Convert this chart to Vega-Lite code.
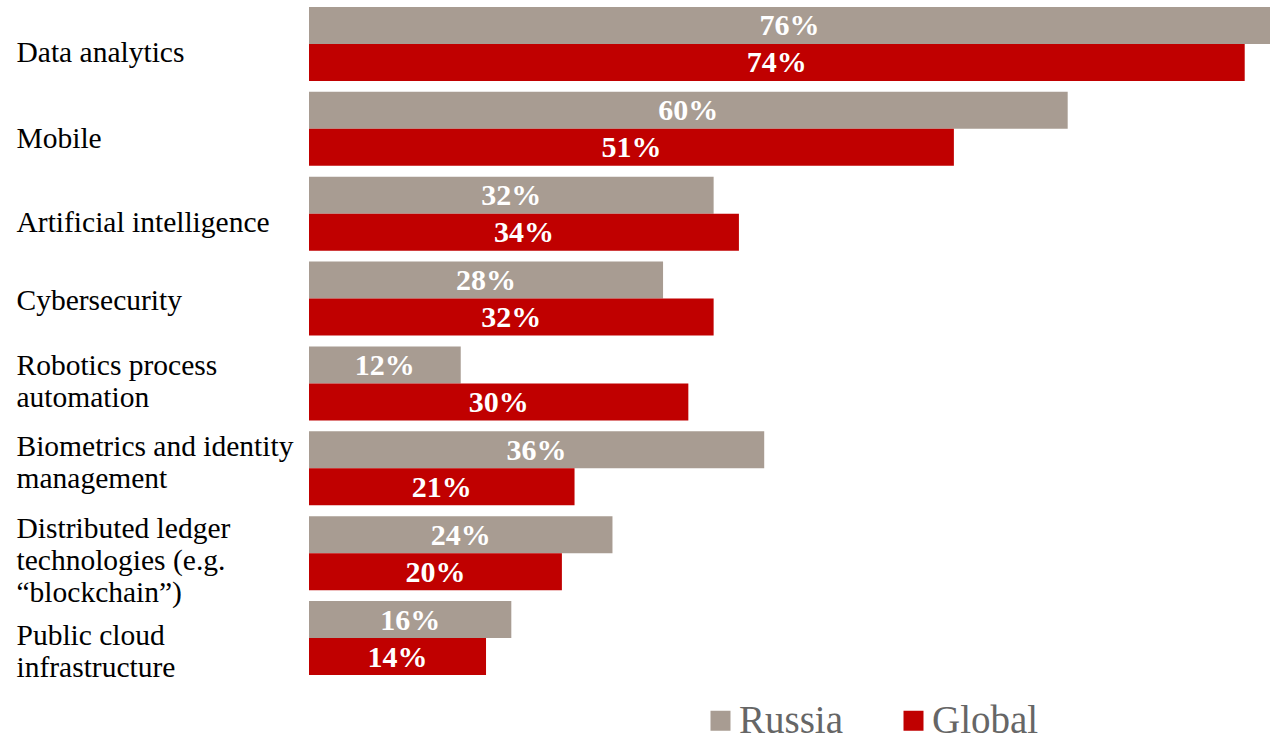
{
  "$schema": "https://vega.github.io/schema/vega-lite/v6.json",
  "width": 961,
  "height": 668,
  "autosize": {"type": "none"},
  "padding": {"left": 309, "top": 7, "right": 2, "bottom": 64},
  "background": "white",
  "config": {"view": {"stroke": null}},
  "data": {
    "values": [
      {"cat": "Data analytics", "series": "Russia", "value": 0.76},
      {"cat": "Data analytics", "series": "Global", "value": 0.74},
      {"cat": "Mobile", "series": "Russia", "value": 0.60},
      {"cat": "Mobile", "series": "Global", "value": 0.51},
      {"cat": "Artificial intelligence", "series": "Russia", "value": 0.32},
      {"cat": "Artificial intelligence", "series": "Global", "value": 0.34},
      {"cat": "Cybersecurity", "series": "Russia", "value": 0.28},
      {"cat": "Cybersecurity", "series": "Global", "value": 0.32},
      {"cat": "Robotics process|automation", "series": "Russia", "value": 0.12},
      {"cat": "Robotics process|automation", "series": "Global", "value": 0.30},
      {"cat": "Biometrics and identity|management", "series": "Russia", "value": 0.36},
      {"cat": "Biometrics and identity|management", "series": "Global", "value": 0.21},
      {"cat": "Distributed ledger|technologies (e.g.|“blockchain”)", "series": "Russia", "value": 0.24},
      {"cat": "Distributed ledger|technologies (e.g.|“blockchain”)", "series": "Global", "value": 0.20},
      {"cat": "Public cloud|infrastructure", "series": "Russia", "value": 0.16},
      {"cat": "Public cloud|infrastructure", "series": "Global", "value": 0.14}
    ]
  },
  "encoding": {
    "y": {
      "field": "cat",
      "type": "nominal",
      "sort": null,
      "scale": {"paddingInner": 0.128, "paddingOuter": 0},
      "axis": {
        "title": null,
        "domain": false,
        "ticks": false,
        "tickSize": 0,
        "labelAlign": "left",
        "labelPadding": 293,
        "labelFont": "Liberation Serif",
        "labelFontSize": 29.5,
        "labelColor": "#000000",
        "labelLineHeight": 32,
        "labelBaseline": "middle",
        "labelLimit": 400,
        "labelExpr": "split(datum.label, '|')",
        "labelOffset": {
          "condition": [
            {"test": "datum.value === 'Data analytics'", "value": 9},
            {"test": "datum.value === 'Mobile'", "value": 10},
            {"test": "datum.value === 'Artificial intelligence'", "value": 9},
            {"test": "datum.value === 'Cybersecurity'", "value": 2},
            {"test": "datum.value === 'Robotics process|automation'", "value": -17},
            {"test": "datum.value === 'Biometrics and identity|management'", "value": -21},
            {"test": "indexof(datum.value, 'Distributed') === 0", "value": -24}
          ],
          "value": -2
        }
      }
    },
    "yOffset": {
      "field": "series",
      "type": "nominal",
      "sort": ["Russia", "Global"],
      "scale": {"paddingInner": 0, "paddingOuter": 0}
    }
  },
  "layer": [
    {
      "mark": {"type": "bar"},
      "encoding": {
        "x": {
          "field": "value",
          "type": "quantitative",
          "scale": {"domain": [0, 0.76], "nice": false, "zero": true},
          "axis": null
        },
        "color": {
          "field": "series",
          "type": "nominal",
          "scale": {"domain": ["Russia", "Global"], "range": ["#A89C92", "#C00000"]},
          "legend": {
            "title": null,
            "orient": "none",
            "legendX": 392,
            "legendY": 694,
            "direction": "horizontal",
            "symbolType": "square",
            "symbolSize": 400,
            "symbolStrokeWidth": 0,
            "labelFont": "Liberation Serif",
            "labelFontSize": 39,
            "labelColor": "#666666",
            "labelOffset": -1,
            "columnPadding": 50
          }
        }
      }
    },
    {
      "mark": {
        "type": "text",
        "color": "white",
        "font": "Liberation Serif",
        "fontWeight": "bold",
        "fontSize": 30,
        "align": "center",
        "baseline": "middle",
        "dy": 1
      },
      "encoding": {
        "x": {
          "field": "value",
          "type": "quantitative",
          "scale": {"domain": [0, 1.52], "nice": false, "zero": true},
          "axis": null
        },
        "text": {"field": "value", "type": "quantitative", "format": ".0%"}
      }
    }
  ],
  "resolve": {"scale": {"x": "independent"}}
}
